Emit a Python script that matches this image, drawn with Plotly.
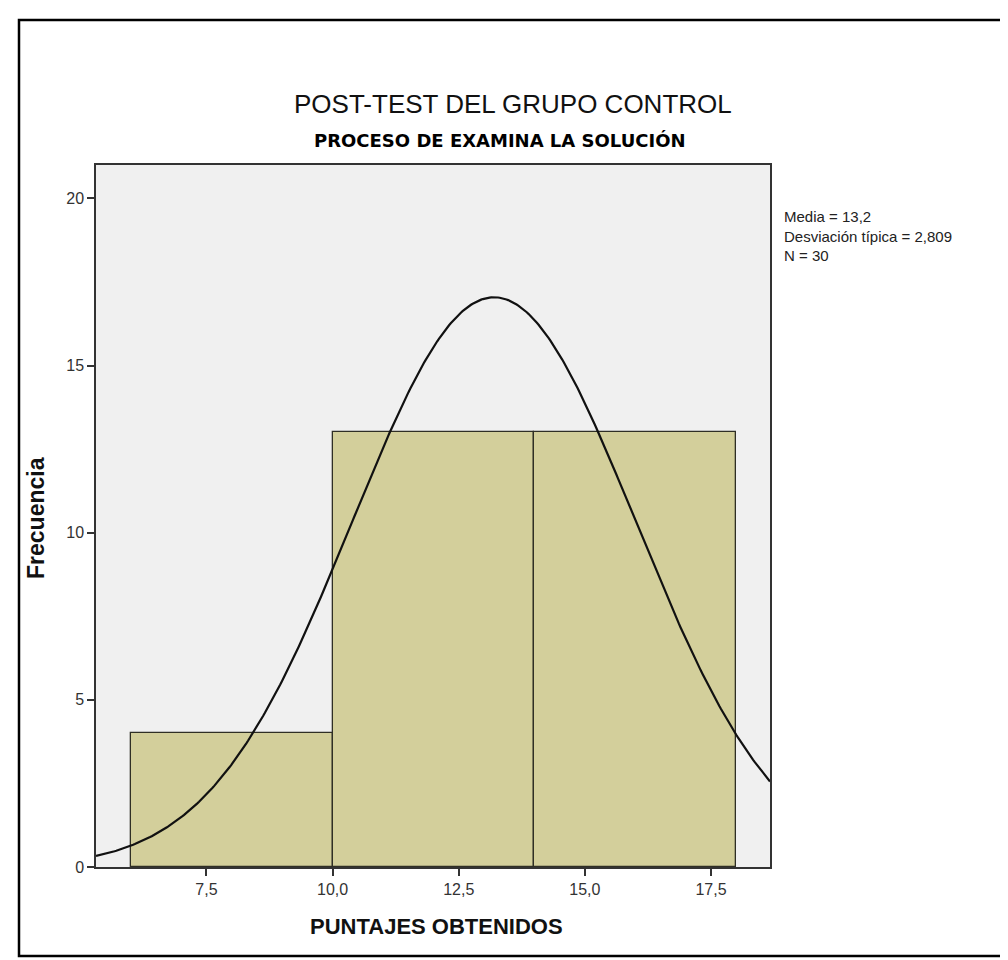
import numpy as np
import plotly.graph_objects as go

# Data
bin_edges = [6, 10, 14, 18]
counts = [4, 13, 13]
media = 13.2
desviacion = 2.809
n_total = 30
x_ticks = [7.5, 10.0, 12.5, 15.0, 17.5]
x_ticklabels = ["7,5", "10,0", "12,5", "15,0", "17,5"]
y_ticks = [0, 5, 10, 15, 20]
y_ticklabels = ["0", "5", "10", "15", "20"]
x_range = [5.31, 18.67]
y_range = [0, 21.0]

W, H = 1008, 960
L, R, T, B = 88, 762, 157, 859

centers = [(bin_edges[i] + bin_edges[i + 1]) / 2 for i in range(len(counts))]
widths = [bin_edges[i + 1] - bin_edges[i] for i in range(len(counts))]
bw = widths[0]

xc = np.linspace(x_range[0], x_range[1], 400)
yc = n_total * bw / (desviacion * np.sqrt(2 * np.pi)) * np.exp(-0.5 * ((xc - media) / desviacion) ** 2)

fig = go.Figure()
fig.add_trace(go.Bar(x=centers, y=counts, width=widths,
                     marker=dict(color="#D3CF9B", line=dict(color="#2f2f25", width=1.3)),
                     hoverinfo="x+y"))
fig.add_trace(go.Scatter(x=xc, y=yc, mode="lines", line=dict(color="#111111", width=2.2),
                         hoverinfo="skip"))

def px(xp):
    return (xp - L) / (R - L)

def py(yp):
    return (B - yp) / (B - T)

font = "Liberation Sans, Arial, sans-serif"
fig.update_layout(
    width=W, height=H,
    margin=dict(l=L, r=W - R, t=T, b=H - B, pad=0),
    paper_bgcolor="white", plot_bgcolor="#F0F0F0",
    showlegend=False, bargap=0,
    font=dict(family=font, color="#333333", size=16),
    xaxis=dict(range=x_range, tickvals=x_ticks, ticktext=x_ticklabels,
               showgrid=False, zeroline=False, showline=True, linecolor="#333333", linewidth=1.5,
               mirror=True, ticks="outside", ticklen=7, tickwidth=1.5, tickcolor="#333333",
               tickfont=dict(size=16, color="#333333")),
    yaxis=dict(range=y_range, tickvals=y_ticks, ticktext=y_ticklabels,
               showgrid=False, zeroline=False, showline=True, linecolor="#333333", linewidth=1.5,
               mirror=True, ticks="outside", ticklen=7, tickwidth=1.5, tickcolor="#333333",
               tickfont=dict(size=16, color="#333333")),
)

fig.add_shape(type="rect", xref="paper", yref="paper",
              x0=px(11), x1=px(998), y0=py(948), y1=py(12),
              line=dict(color="black", width=2.5), fillcolor="rgba(0,0,0,0)", layer="below")

fig.add_annotation(text="POST-TEST DEL GRUPO CONTROL", xref="paper", yref="paper",
                   x=px(505), y=py(96), showarrow=False, xanchor="center", yanchor="middle",
                   font=dict(family=font, size=26, color="#111111"))
fig.add_annotation(text="<b>PROCESO DE EXAMINA LA SOLUCIÓN</b>", xref="paper", yref="paper",
                   x=px(492), y=py(132), showarrow=False, xanchor="center", yanchor="middle",
                   font=dict(family="DejaVu Sans, sans-serif", size=18, color="#000000"))
fig.add_annotation(text="<b>Frecuencia</b>", xref="paper", yref="paper",
                   x=px(28), y=py(510), showarrow=False, textangle=-90,
                   xanchor="center", yanchor="middle",
                   font=dict(family=font, size=23, color="#111111"))
fig.add_annotation(text="<b>PUNTAJES OBTENIDOS</b>", xref="paper", yref="paper",
                   x=px(428), y=py(918), showarrow=False, xanchor="center", yanchor="middle",
                   font=dict(family=font, size=22, color="#111111"))
fig.add_annotation(text=f"Media = {str(media).replace('.', ',')}<br>Desviación típica = {str(desviacion).replace('.', ',')}<br>N = {n_total}",
                   xref="paper", yref="paper", x=px(774), y=py(198), showarrow=False,
                   xanchor="left", yanchor="top", align="left",
                   font=dict(family=font, size=15, color="#222222"))

fig.write_html("out.html")
